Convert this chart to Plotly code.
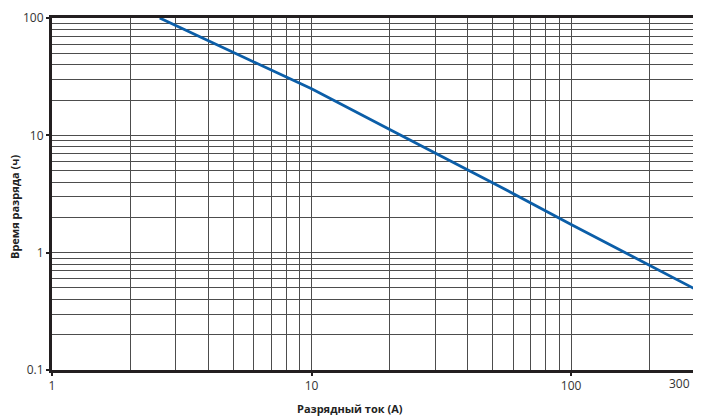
import math
import plotly.graph_objects as go

# Data (log-log discharge curve)
current_a = [2.6, 5, 10, 20, 50, 100, 200, 300]
time_h = [100, 50.6, 24.9, 11.2, 3.93, 1.74, 0.79, 0.49]

x_ticks = [1, 10, 100, 300]
x_tick_text = ["1", "10", "100", ""]   # "300" is placed as an edge label below
x_edge_label = "300"
y_ticks = [0.1, 1, 10, 100]
y_tick_text = ["0.1", "1", "10", "100"]

x_minor = [2, 3, 4, 5, 6, 7, 8, 9, 20, 30, 40, 50, 60, 70, 80, 90, 200]
y_minor = [0.2, 0.3, 0.4, 0.5, 0.6, 0.7, 0.8, 0.9,
           2, 3, 4, 5, 6, 7, 8, 9,
           20, 30, 40, 50, 60, 70, 80, 90]

x_title = "Разрядный ток (А)"
y_title = "Время разряда (ч)"

FONT = "Open Sans"
GRID = "#4d4d4d"
AXIS = "#231f20"
TICKFONT = dict(family=FONT, size=12, color="#333333")

fig = go.Figure()
fig.add_trace(go.Scatter(
    x=current_a, y=time_h, mode="lines",
    line=dict(color="#0b5ea8", width=2.8),
    hoverinfo="skip", showlegend=False,
))

common = dict(
    showline=True, mirror=True, linewidth=3, linecolor=AXIS,
    showgrid=True, gridcolor=GRID, gridwidth=1,
    ticks="outside", ticklen=3, tickwidth=2, tickcolor=AXIS,
    tickfont=TICKFONT,
    zeroline=False, automargin=False,
)

x_max = math.log10(x_ticks[-1])
fig.update_xaxes(
    type="log", range=[0, x_max + 1e-4], tickmode="array",
    tickvals=x_ticks, ticktext=x_tick_text,
    minor=dict(tickmode="array", tickvals=x_minor, showgrid=True,
               gridcolor=GRID, gridwidth=1, ticks=""),
    **common,
)
fig.update_yaxes(
    type="log", range=[-1, 2], tickmode="array",
    tickvals=y_ticks, ticktext=y_tick_text,
    minor=dict(tickmode="array", tickvals=y_minor, showgrid=True,
               gridcolor=GRID, gridwidth=1, ticks=""),
    **common,
)

# label of the last x tick, kept inside the page edge
fig.add_annotation(
    text=x_edge_label, xref="x", yref="paper",
    x=x_max, y=(370 - 383) / 352, xshift=-4,
    showarrow=False, xanchor="right", yanchor="middle",
    borderpad=0,
    font=TICKFONT,
)
fig.add_annotation(
    text=x_title, xref="paper", yref="paper",
    x=(350 - 52) / 643, y=(370 - 408) / 352,
    showarrow=False, xanchor="center", yanchor="middle",
    font=dict(family=FONT, size=11, color="#222222", weight="bold"),
)
fig.add_annotation(
    text=y_title, xref="paper", yref="paper",
    x=(15 - 52) / 643, y=(370 - 207) / 352, textangle=-90,
    showarrow=False, xanchor="center", yanchor="middle",
    font=dict(family=FONT, size=11, color="#222222", weight="bold"),
)

# page body has an 8px margin, so the figure is sized/offset to compensate
fig.update_layout(
    width=693, height=409,
    margin=dict(l=44, r=6, t=10, b=47),
    paper_bgcolor="white", plot_bgcolor="white",
)

fig.write_html("out.html")
